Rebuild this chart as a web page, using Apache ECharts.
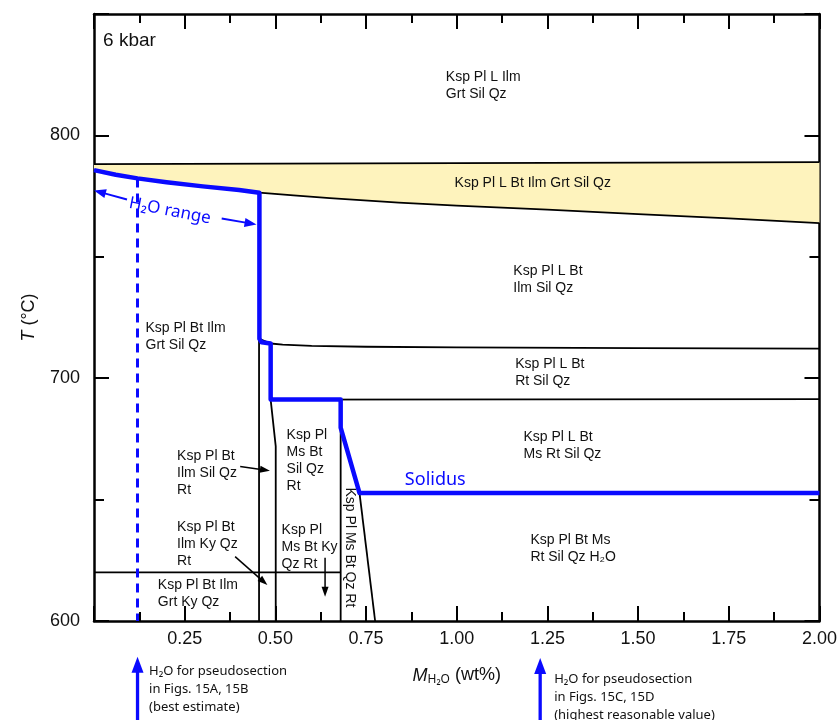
<!DOCTYPE html>
<html><head><meta charset="utf-8">
<script src="https://cdn.jsdelivr.net/npm/echarts@6/dist/echarts.min.js"></script>
<style>html,body{margin:0;padding:0;background:#fff}#c{width:840px;height:720px}</style>
</head><body><div id="c"></div>
<script>
// ---------- data ----------
const xTickValues = [0.25, 0.5, 0.75, 1.0, 1.25, 1.5, 1.75, 2.0];
const yTickLabels = [600, 700, 800];

// upper boundary of the yellow field
const bandUpper = [[0, 788.2], [1.0, 788.6], [2.0, 789.0]];
// lower boundary of the yellow field (L-in)
const bandLower = [[0, 785.7], [0.06, 783.8], [0.12, 782.3], [0.2, 780.7], [0.3, 779.0], [0.4, 777.5], [0.455, 776.4], [0.55, 775.3], [0.65, 774.2], [0.84, 772.3], [1.0, 771.1], [1.25, 769.4], [1.5, 767.6], [1.75, 765.8], [2.0, 763.9]];

// solidus (blue)
const solidus = [[0, 785.7], [0.06, 783.8], [0.12, 782.3], [0.2, 780.7], [0.3, 779.0], [0.4, 777.5], [0.456, 776.4], [0.456, 716.2], [0.462, 714.8], [0.487, 714.3], [0.487, 691.2], [0.68, 691.2], [0.68, 679.6], [0.732, 652.7], [2.0, 652.7]];

// other field boundaries (black)
const b715 = [[0.456, 716.2], [0.487, 714.3], [0.52, 713.8], [0.6, 713.3], [0.75, 712.95], [1.0, 712.7], [1.5, 712.4], [2.0, 712.2]];
const b691 = [[0.487, 691.2], [2.0, 691.4]];
const bVertA = [[0.455, 776.4], [0.455, 600]];
const bVertB = [[0.487, 691.2], [0.501, 671.9], [0.501, 600]];
const bVertC = [[0.68, 691.2], [0.68, 600]];
const bDiagD = [[0.732, 652.7], [0.775, 600]];
const b620 = [[0, 620], [0.68, 620]];

// chosen bulk H2O (dashed)
const h2oBest = [[0.12, 782.3], [0.12, 600]];

// annotation arrows [x1, T1, x2, T2] (tail -> head)
const arrowsBlue = [[0.091, 773.6, 0.0, 777.3], [0.352, 765.8, 0.448, 763.3]];
const arrowsBlack = [[0.403, 663.6, 0.485, 661.9], [0.389, 626.5, 0.478, 614.8], [0.637, 626.0, 0.637, 610.0]];

// field labels (anchor = top-left of text block)
const fieldLabels = [
  'Ksp Pl L Ilm\nGrt Sil Qz',
  'Ksp Pl L Bt Ilm Grt Sil Qz',
  'Ksp Pl L Bt\nIlm Sil Qz',
  'Ksp Pl Bt Ilm\nGrt Sil Qz',
  'Ksp Pl L Bt\nRt Sil Qz',
  'Ksp Pl L Bt\nMs Rt Sil Qz',
  'Ksp Pl\nMs Bt\nSil Qz\nRt',
  'Ksp Pl Bt\nIlm Sil Qz\nRt',
  'Ksp Pl Bt\nIlm Ky Qz\nRt',
  'Ksp Pl Bt Ilm\nGrt Ky Qz',
  'Ksp Pl\nMs Bt Ky\nQz Rt',
  'Ksp Pl Bt Ms\nRt Sil Qz H₂O'
];
const fieldLabelPos = [
  [0.970, 827.3], [0.994, 783.7], [1.156, 747.8], [0.142, 724.2], [1.161, 709.1], [1.184, 679.1],
  [0.531, 680.2], [0.229, 671.5], [0.229, 642.1], [0.176, 618.1], [0.517, 641.0], [1.203, 636.9]
];
// vertical label in the narrow field (centre)
const verticalLabel = 'Ksp Pl Ms Bt Qz Rt';
const verticalLabelPos = [0.705, 630.3];

const pressureLabel = '6 kbar';
const pressureLabelPos = [0.025, 838.8];

const solidusLabel = 'Solidus';
const solidusLabelPos = [0.857, 658.1];
const rangeLabel = 'H₂O range';
const rangeLabelPos = [0.209, 768.9];

// bulk-composition notes below the axis
const notesX = [0.12, 1.23];
const notesText = [
  'H₂O for pseudosection\nin Figs. 15A, 15B\n(best estimate)',
  'H₂O for pseudosection\nin Figs. 15C, 15D\n(highest reasonable value)'
];

// ---------- chart ----------
const BLUE = '#0a0aff';
const INK = '#111';
const F = 'Liberation Sans, Arial, sans-serif';
const F2 = 'Noto Sans, sans-serif';

const chart = echarts.init(document.getElementById('c'), null, {renderer: 'canvas'});

function lineSeries(data, color, width, z, extra) {
  return Object.assign({
    type: 'line', data: data, showSymbol: false, symbol: 'none', silent: true,
    xAxisIndex: 0, yAxisIndex: 0, z: z, animation: false,
    lineStyle: {color: color, width: width, cap: 'butt', join: 'round'}
  }, extra || {});
}

function arrowSeries(data, color, lw, hl, hw, z) {
  return {
    type: 'custom', xAxisIndex: 0, yAxisIndex: 0, z: z, silent: true, animation: false,
    data: data, encode: {x: [0, 2], y: [1, 3]},
    renderItem: function (params, api) {
      const p1 = api.coord([api.value(0), api.value(1)]);
      const p2 = api.coord([api.value(2), api.value(3)]);
      const dx = p2[0] - p1[0], dy = p2[1] - p1[1];
      const L = Math.hypot(dx, dy), ux = dx / L, uy = dy / L;
      const bx = p2[0] - ux * hl, by = p2[1] - uy * hl;
      return {type: 'group', children: [
        {type: 'line', shape: {x1: p1[0], y1: p1[1], x2: bx + ux, y2: by + uy}, style: {stroke: color, lineWidth: lw}},
        {type: 'polygon', shape: {points: [[p2[0], p2[1]], [bx - uy * hw, by + ux * hw], [bx + uy * hw, by - ux * hw]]}, style: {fill: color}}
      ]};
    }
  };
}

function textSeries(items, z) {
  return {
    type: 'custom', xAxisIndex: 0, yAxisIndex: 0, z: z, silent: true, animation: false,
    data: items.map(function (it, i) { return [it.pos[0], it.pos[1], i]; }),
    encode: {x: 0, y: 1},
    renderItem: function (params, api) {
      const it = items[params.dataIndex];
      const p = api.coord([api.value(0), api.value(1)]);
      return {type: 'text', x: p[0], y: p[1], rotation: it.rotation || 0,
        style: Object.assign({text: it.text}, it.style)};
    }
  };
}

const fieldStyle = {fontSize: 14, lineHeight: 17, fontFamily: F, fill: INK, align: 'left', verticalAlign: 'top'};
const textItems = fieldLabels.map(function (t, i) {
  return {pos: fieldLabelPos[i], text: t, style: fieldStyle};
});
textItems.push({pos: verticalLabelPos, text: verticalLabel, rotation: -Math.PI / 2,
  style: {fontSize: 14, fontFamily: F, fill: INK, align: 'center', verticalAlign: 'middle'}});
textItems.push({pos: pressureLabelPos, text: pressureLabel,
  style: {fontSize: 19, fontFamily: F, fill: INK, align: 'left', verticalAlign: 'middle'}});
textItems.push({pos: solidusLabelPos, text: solidusLabel,
  style: {fontSize: 18, fontFamily: F2, fill: BLUE, align: 'left', verticalAlign: 'middle'}});
textItems.push({pos: rangeLabelPos, text: rangeLabel, rotation: -0.19,
  style: {fontSize: 17, fontFamily: F2, fill: BLUE, align: 'center', verticalAlign: 'middle'}});

const axisLine = {show: true, lineStyle: {color: '#000', width: 2.5}};
const tickStyle = {color: '#000', width: 2};

function xAx(pos, labels) {
  return {
    type: 'value', position: pos, min: 0, max: 2, interval: 0.25, gridIndex: 0,
    axisLine: axisLine,
    axisTick: {show: true, inside: true, length: 15, lineStyle: tickStyle},
    minorTick: {show: true, splitNumber: 2, length: 9, lineStyle: tickStyle},
    splitLine: {show: false}, minorSplitLine: {show: false},
    axisLabel: labels ? {
      show: true, margin: 9, fontSize: 18, fontFamily: F, color: INK,
      formatter: function (v) {
        for (let k = 0; k < xTickValues.length; k++) { if (Math.abs(xTickValues[k] - v) < 1e-6) return v.toFixed(2); }
        return '';
      }
    } : {show: false},
    name: labels ? '{i|M}{s|H₂O} (wt%)' : '',
    nameLocation: 'middle', nameGap: 44,
    nameTextStyle: {fontSize: 18, fontFamily: F, color: INK,
      rich: {i: {fontStyle: 'italic', fontSize: 18, fontFamily: F, color: INK},
             s: {fontSize: 12, fontFamily: F2, color: INK, padding: [9, 0, 0, 0]}}}
  };
}

function yAx(pos, interval, len, labels, line) {
  return {
    type: 'value', position: pos, min: 600, max: 850, interval: interval, gridIndex: 0,
    axisLine: line ? axisLine : {show: false},
    axisTick: {show: true, inside: true, length: len, lineStyle: tickStyle},
    splitLine: {show: false},
    axisLabel: labels ? {
      show: true, margin: 14, fontSize: 18, fontFamily: F, color: INK,
      formatter: function (v) { return yTickLabels.indexOf(Math.round(v)) >= 0 ? String(Math.round(v)) : ''; }
    } : {show: false},
    name: labels ? '{i|T} (°C)' : '',
    nameLocation: 'middle', nameGap: 56, nameRotate: 90,
    nameTextStyle: {fontSize: 18, fontFamily: F, color: INK,
      rich: {i: {fontStyle: 'italic', fontSize: 18, fontFamily: F, color: INK}}}
  };
}

const bandPolygon = bandUpper.concat(bandLower.slice().reverse());

chart.setOption({
  animation: false,
  backgroundColor: '#fff',
  grid: {left: 94, right: 17, top: 14, bottom: 99, containLabel: false},
  xAxis: [xAx('bottom', true), xAx('top', false)],
  yAxis: [yAx('left', 50, 10, true, true), yAx('left', 100, 15, false, false),
          yAx('right', 50, 10, false, true), yAx('right', 100, 15, false, false)],
  series: [
    {
      type: 'custom', xAxisIndex: 0, yAxisIndex: 0, z: 1, silent: true, animation: false,
      data: bandPolygon, encode: {x: 0, y: 1},
      renderItem: function (params, api) {
        if (params.dataIndex !== 0) return null;
        return {type: 'polygon', shape: {points: bandPolygon.map(function (p) { return api.coord(p); })},
          style: {fill: '#fef3bd'}};
      }
    },
    lineSeries(bandUpper, '#000', 1.8, 2),
    lineSeries(bandLower, '#000', 1.8, 2),
    lineSeries(b715, '#000', 1.8, 2),
    lineSeries(b691, '#000', 1.8, 2),
    lineSeries(bVertA, '#000', 1.8, 2),
    lineSeries(bVertB, '#000', 1.8, 2),
    lineSeries(bVertC, '#000', 1.8, 2),
    lineSeries(bDiagD, '#000', 1.8, 2),
    lineSeries(b620, '#000', 1.8, 2),
    lineSeries(h2oBest, BLUE, 3, 3, {lineStyle: {color: BLUE, width: 3, type: [9, 6], cap: 'butt'}}),
    lineSeries(solidus, BLUE, 4.5, 4),
    arrowSeries(arrowsBlue, BLUE, 2, 12, 4.5, 5),
    arrowSeries(arrowsBlack, '#000', 1.5, 10, 3.5, 5),
    textSeries(textItems, 6)
  ]
});

// notes below the x axis, positioned from the axis scale
const gBottom = 720;
const graphics = [];
notesX.forEach(function (xv, i) {
  const px = chart.convertToPixel({xAxisIndex: 0}, xv);
  const tip = i === 0 ? 656.7 : 658;
  graphics.push({type: 'line', shape: {x1: px, y1: gBottom, x2: px, y2: tip + 12}, style: {stroke: BLUE, lineWidth: 3.3}});
  graphics.push({type: 'polygon', shape: {points: [[px, tip], [px - 6, tip + 16], [px + 6, tip + 16]]}, style: {fill: BLUE}});
  graphics.push({type: 'text', x: px + (i === 0 ? 11.5 : 14), y: (i === 0 ? 662.7 : 670),
    style: {text: notesText[i], fontSize: 13, lineHeight: 18, fontFamily: F2, fill: INK, align: 'left', verticalAlign: 'top'}});
});
chart.setOption({graphic: graphics});
</script>
</body></html>
